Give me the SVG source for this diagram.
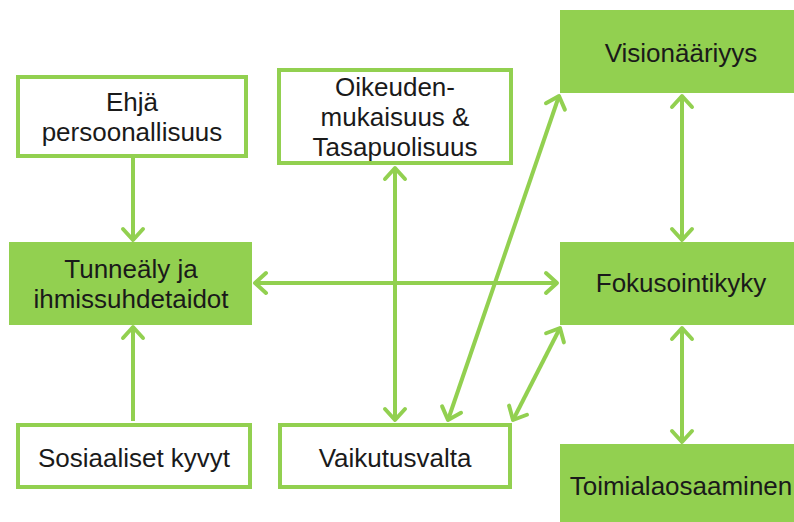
<svg xmlns="http://www.w3.org/2000/svg" width="794" height="522" viewBox="0 0 794 522">
<style>
.wb{fill:#fff;stroke:#92D050;stroke-width:4}
.gb{fill:#92D050;stroke:none}
.t{font-family:"Liberation Sans",Arial,sans-serif;font-size:26px;fill:#1a1a1a;text-anchor:middle}
.c{stroke:#92D050;stroke-width:4;fill:none}
</style>
<defs>
<marker id="ah" viewBox="-16 -16 32 32" refX="0" refY="0" markerWidth="32" markerHeight="32" markerUnits="userSpaceOnUse" orient="auto-start-reverse">
<path d="M-11,-10 L0,0 L-11,10" fill="none" stroke="#92D050" stroke-width="4" stroke-linecap="round" stroke-linejoin="round"/>
</marker>
</defs>
<rect width="794" height="522" fill="#fff"/>
<g id="connectors">
<line class="c" x1="133" y1="158" x2="133" y2="240" marker-end="url(#ah)"/>
<line class="c" x1="133" y1="421" x2="133" y2="327" marker-end="url(#ah)"/>
<line class="c" x1="255" y1="283" x2="557" y2="283" marker-start="url(#ah)" marker-end="url(#ah)"/>
<line class="c" x1="395" y1="168" x2="395" y2="420" marker-start="url(#ah)" marker-end="url(#ah)"/>
<line class="c" x1="448" y1="420" x2="559" y2="96" marker-start="url(#ah)" marker-end="url(#ah)"/>
<line class="c" x1="513" y1="420" x2="560" y2="328" marker-start="url(#ah)" marker-end="url(#ah)"/>
<line class="c" x1="682" y1="96" x2="682" y2="240" marker-start="url(#ah)" marker-end="url(#ah)"/>
<line class="c" x1="682" y1="328" x2="682" y2="442" marker-start="url(#ah)" marker-end="url(#ah)"/>
</g>
<g id="ehja">
<rect class="wb" x="18" y="77" width="228" height="79"/>
<text class="t" x="132" y="111">Ehjä</text>
<text class="t" x="132" y="141">persoonallisuus</text>
</g>
<g id="tunnealy">
<rect class="gb" x="9" y="242" width="243" height="83"/>
<text class="t" x="131" y="278">Tunneäly ja</text>
<text class="t" x="131" y="308">ihmissuhdetaidot</text>
</g>
<g id="sosiaaliset">
<rect class="wb" x="18" y="425" width="232" height="62"/>
<text class="t" x="134" y="467">Sosiaaliset kyvyt</text>
</g>
<g id="oikeuden">
<rect class="wb" x="279" y="70" width="232" height="93"/>
<text class="t" x="395" y="96">Oikeuden-</text>
<text class="t" x="395" y="126">mukaisuus &amp;</text>
<text class="t" x="395" y="156">Tasapuolisuus</text>
</g>
<g id="vaikutusvalta">
<rect class="wb" x="280" y="425" width="230" height="62"/>
<text class="t" x="395" y="467">Vaikutusvalta</text>
</g>
<g id="visionaariyys">
<rect class="gb" x="560" y="10" width="244" height="83"/>
<text class="t" x="681" y="62">Visionääriyys</text>
</g>
<g id="fokusointikyky">
<rect class="gb" x="560" y="242" width="244" height="83"/>
<text class="t" x="681" y="292">Fokusointikyky</text>
</g>
<g id="toimiala">
<rect class="gb" x="560" y="444" width="244" height="83"/>
<text class="t" x="681" y="495">Toimialaosaaminen</text>
</g>
</svg>
